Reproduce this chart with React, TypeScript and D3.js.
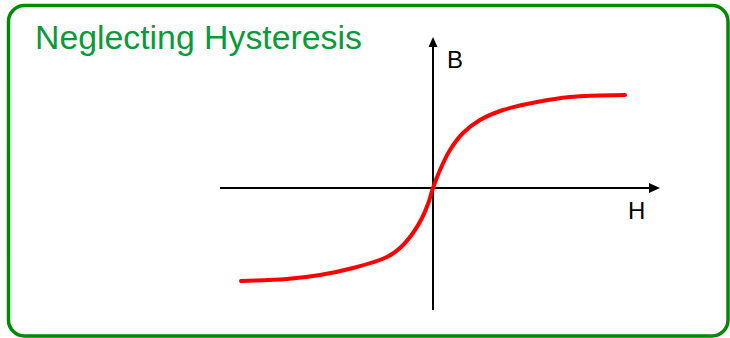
import React from "react";
import * as d3 from "d3";

const title = "Neglecting Hysteresis";
const xLabel = "H";
const yLabel = "B";
// magnetisation curve (H, B) in relative units
const hValues = [-0.96, -0.73, -0.565, -0.4, -0.23, -0.165, -0.1, -0.055, -0.025, 0, 0.035, 0.085, 0.15, 0.235, 0.35, 0.52, 0.685, 0.96];
const bValues = [-0.93, -0.91, -0.87, -0.8, -0.69, -0.6, -0.45, -0.3, -0.16, 0, 0.18, 0.38, 0.55, 0.68, 0.78, 0.86, 0.91, 0.93];
const hAxisExtent = [-1.065, 1.135];
const bAxisExtent = [-1.22, 1.51];

const W = 730;
const H = 338;

export default function App() {
  const x = d3.scaleLinear().domain([-1, 1]).range([233, 633]);
  const y = d3.scaleLinear().domain([-1, 1]).range([288, 88]);
  const pts: [number, number][] = hValues.map((h, i) => [h, bValues[i]]);
  const line = d3
    .line<[number, number]>()
    .x((d) => x(d[0]))
    .y((d) => y(d[1]))
    .curve(d3.curveCatmullRom.alpha(0.5));

  const x0 = x(0);
  const y0 = y(0);
  const xEnd = x(hAxisExtent[1]);
  const yTop = y(bAxisExtent[1]);
  const font = "Arial, 'Liberation Sans', sans-serif";

  return (
    <svg
      width={W}
      height={H}
      style={{ position: "absolute", left: 0, top: 0, background: "#fff" }}
      fontFamily={font}
    >
      <rect x={8.5} y={5.5} width={719.5} height={330.5} rx={16} ry={16} fill="#fff" stroke="#008a00" strokeWidth={3.5} />
      <text x={35} y={49} fontSize={33.8} fill="#0a9a3a">{title}</text>
      {/* H axis */}
      <line x1={x(hAxisExtent[0])} y1={y0} x2={xEnd - 8} y2={y0} stroke="#000" strokeWidth={2} />
      <path d={`M${xEnd},${y0} L${xEnd - 11},${y0 - 5} L${xEnd - 11},${y0 + 5} Z`} fill="#000" />
      {/* B axis */}
      <line x1={x0} y1={y(bAxisExtent[0])} x2={x0} y2={yTop + 8} stroke="#000" strokeWidth={2} />
      <path d={`M${x0},${yTop} L${x0 - 4.5},${yTop + 10} L${x0 + 4.5},${yTop + 10} Z`} fill="#000" />
      <text x={x0 + 14} y={67.5} fontSize={24} fill="#000">{yLabel}</text>
      <text x={xEnd - 32} y={218.5} fontSize={24} fill="#000">{xLabel}</text>
      <path d={line(pts) || ""} fill="none" stroke="#ff0000" strokeWidth={4} strokeLinecap="round" />
    </svg>
  );
}
